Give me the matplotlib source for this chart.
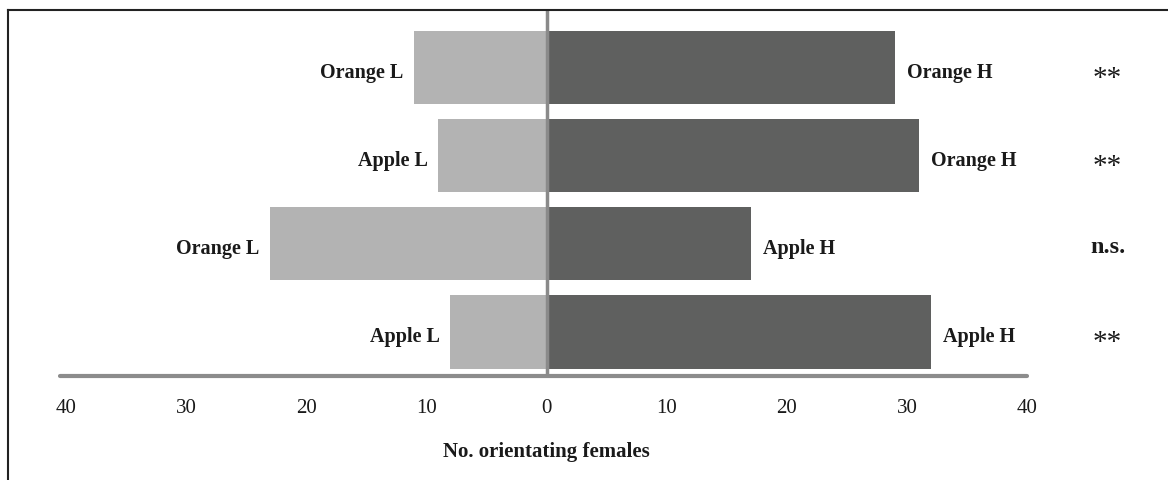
import matplotlib.pyplot as plt
from matplotlib.lines import Line2D
from matplotlib.ticker import FuncFormatter

# Choice tests, top row first
low_labels = ["Orange L", "Apple L", "Orange L", "Apple L"]
high_labels = ["Orange H", "Orange H", "Apple H", "Apple H"]
low_counts = [11, 9, 23, 8]
high_counts = [29, 31, 17, 32]
significance = ["**", "**", "n.s.", "**"]
ticks = [-40, -30, -20, -10, 0, 10, 20, 30, 40]

plt.rcParams['font.family'] = ['Liberation Serif', 'DejaVu Serif']

fig = plt.figure(figsize=(11.68, 4.81), dpi=100)
ax = fig.add_axes([66 / 1168, 1 - 377 / 481, (1027 - 66) / 1168, (377 - 12) / 481])

rows = list(range(len(low_counts)))
ax.barh(rows, [-v for v in low_counts], height=0.83, color='#b3b3b3')
ax.barh(rows, high_counts, height=0.83, color='#5f605f')

for i in rows:
    ax.text(-low_counts[i] - 0.9, i + 0.05, low_labels[i], ha='right', va='center',
            fontsize=14.5, fontweight='bold', color='#1a1a1a')
    ax.text(high_counts[i] + 1.0, i + 0.05, high_labels[i], ha='left', va='center',
            fontsize=14.5, fontweight='bold', color='#1a1a1a')
    if significance[i] == "**":
        ax.text(46.7, i + 0.12, significance[i], ha='center', va='center',
                fontsize=21, color='#1a1a1a', clip_on=False)
    else:
        ax.text(46.7, i + 0.03, significance[i], ha='center', va='center',
                fontsize=17.5, fontweight='bold', color='#1a1a1a', clip_on=False)

ax.axvline(0, color='#8a8a8a', lw=2.5, zorder=3)

ax.set_xlim(-40, 40)
ax.set_ylim(3.5, -0.64)
ax.set_xticks(ticks)
ax.xaxis.set_major_formatter(FuncFormatter(lambda v, p: f"{abs(int(v))}"))
ax.tick_params(axis='x', length=0, pad=16, labelsize=15, colors='#1a1a1a')
ax.set_yticks([])
ax.set_xlabel("No. orientating females", fontsize=15, fontweight='bold',
              color='#1a1a1a', labelpad=17)

for side in ['top', 'right', 'left']:
    ax.spines[side].set_visible(False)
ax.spines['bottom'].set_color('#8c8c8c')
ax.spines['bottom'].set_linewidth(3)
ax.spines['bottom'].set_capstyle('round')
ax.spines['bottom'].set_bounds(-40.5, 40)

# outer frame, top and left edges only
fig.add_artist(Line2D([8 / 1168, 1], [1 - 11 / 481, 1 - 11 / 481], color='#222222', lw=1.5))
fig.add_artist(Line2D([8 / 1168, 8 / 1168], [0, 1 - 11 / 481], color='#222222', lw=1.5))

fig.savefig("out.png", dpi=100)
